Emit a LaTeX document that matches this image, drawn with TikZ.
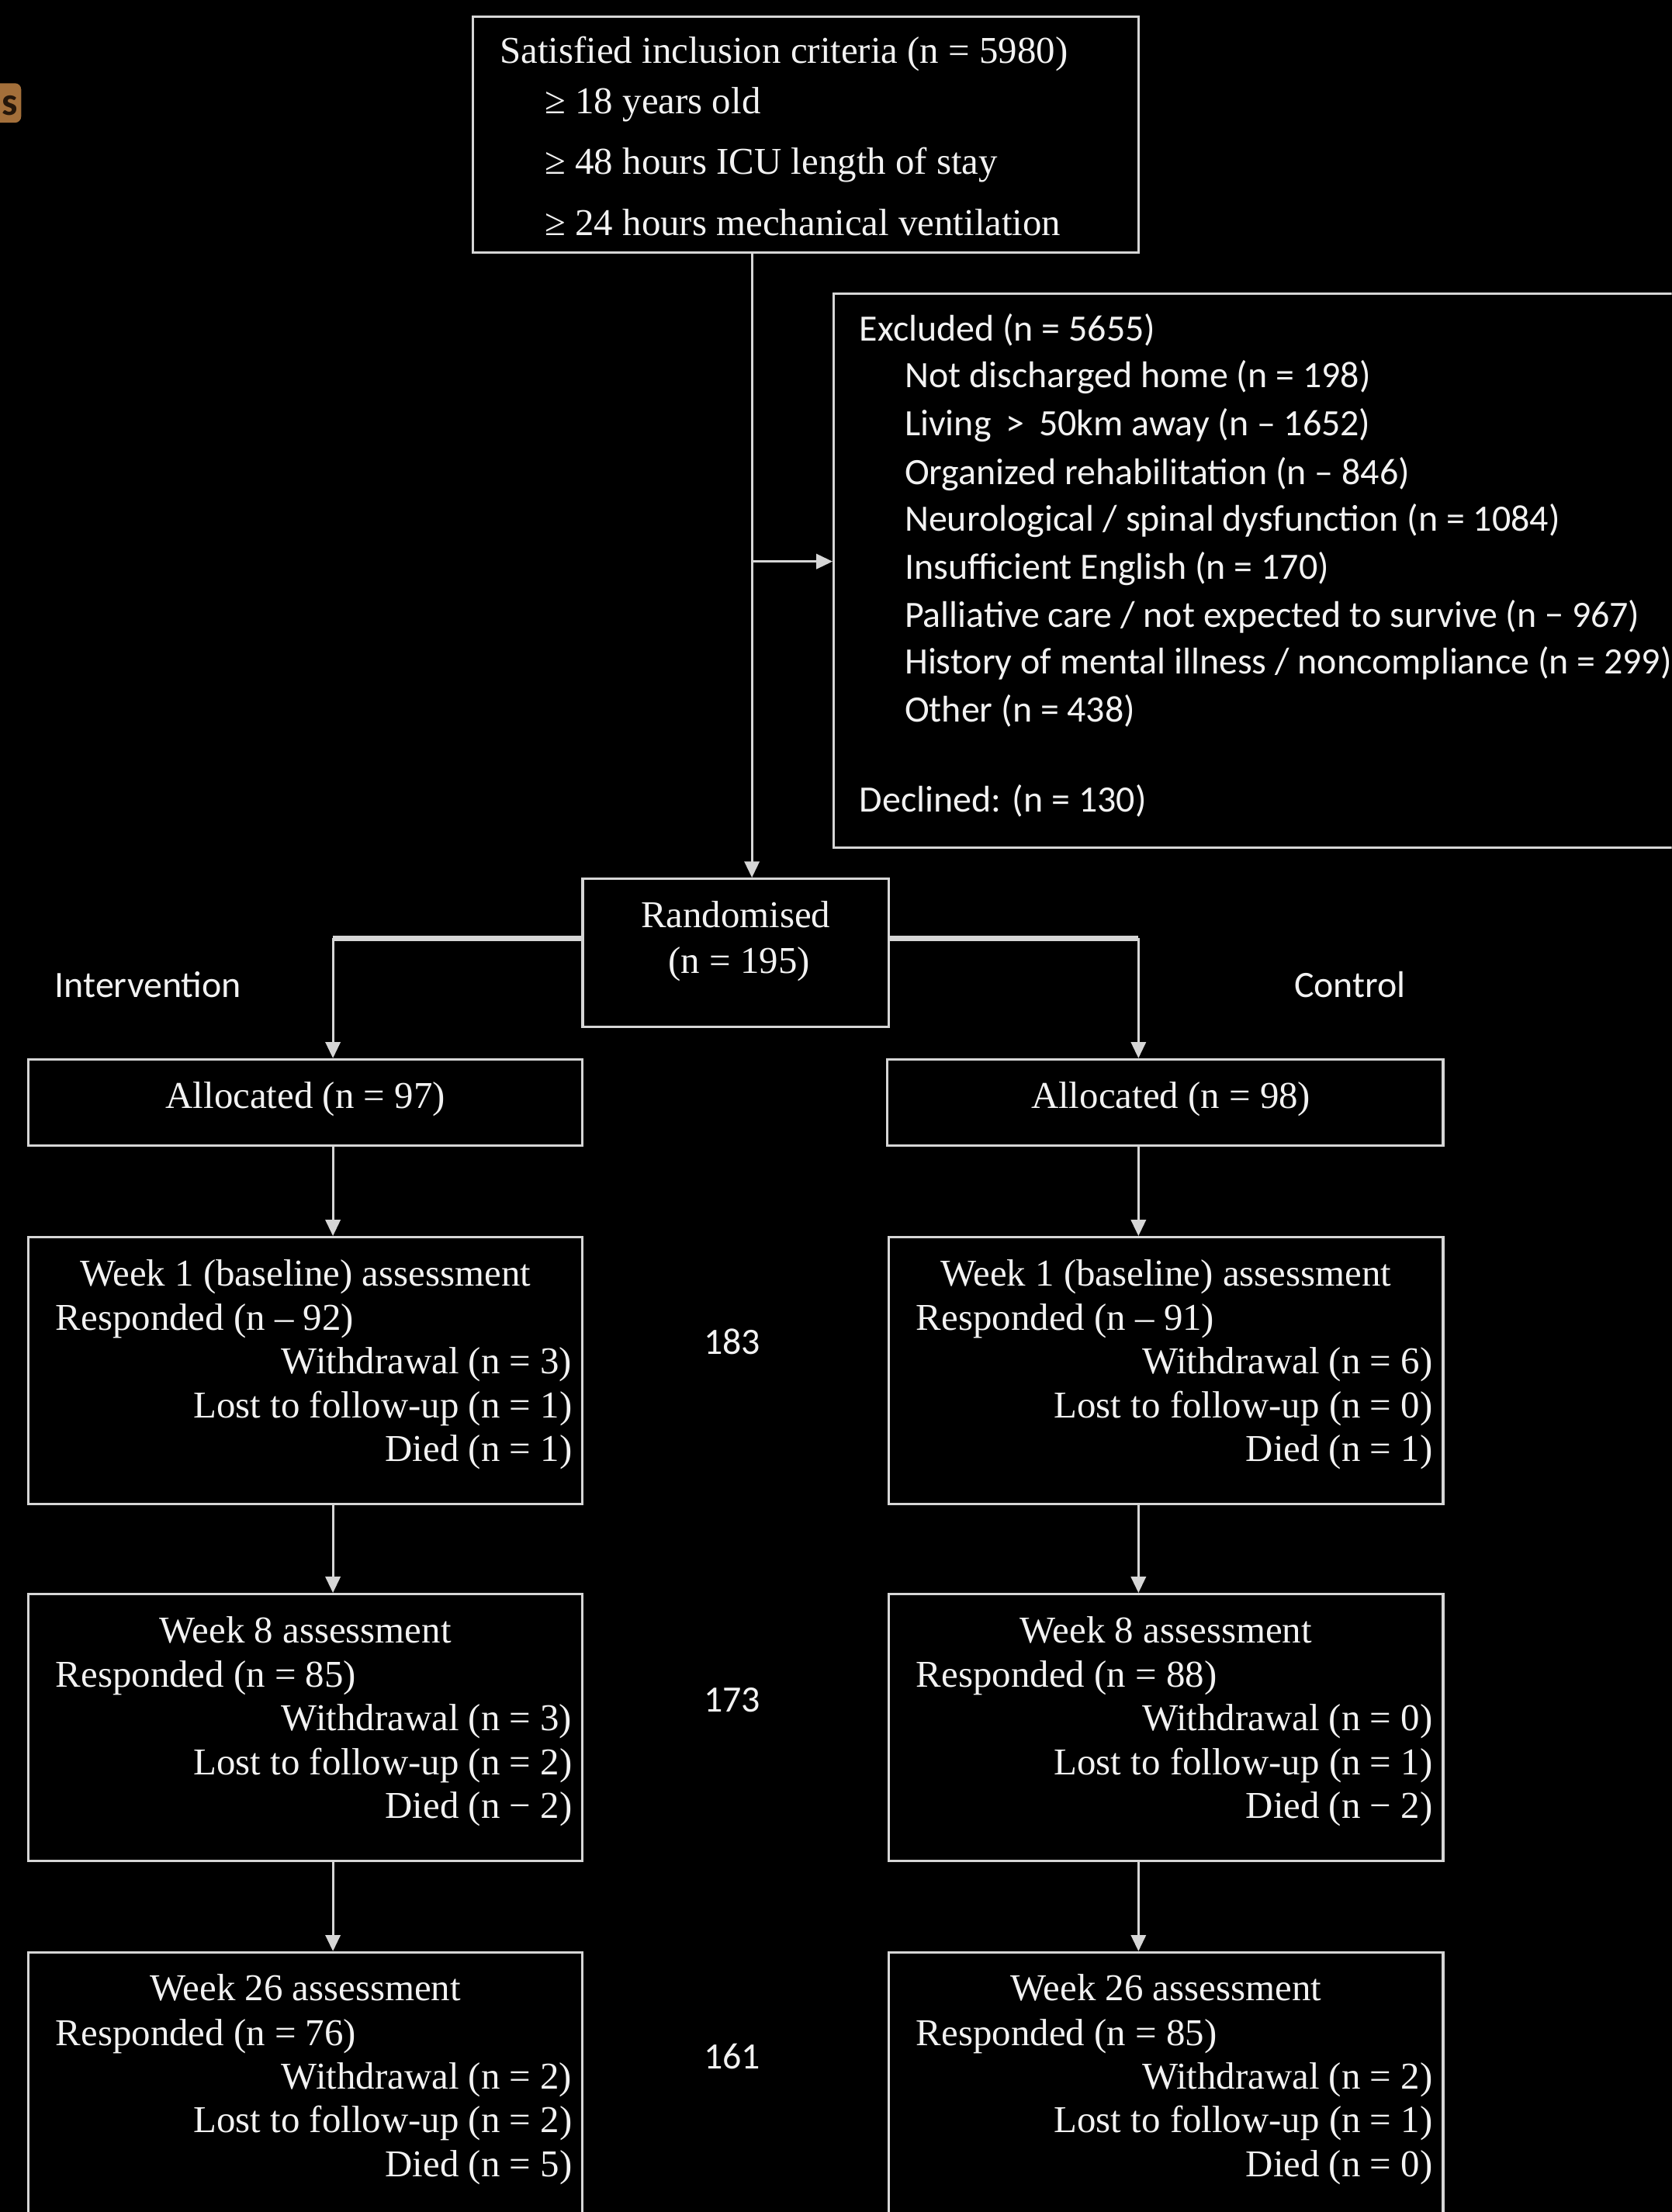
\documentclass[tikz,border=0pt]{standalone}
\usepackage{fontspec}
\setmainfont{Liberation Serif}
\newfontfamily\calib{Carlito}
\usetikzlibrary{arrows.meta,calc}

\definecolor{ink}{HTML}{F2F2F2}
\definecolor{rule}{HTML}{D6D6D6}
\definecolor{tagfill}{HTML}{A36F3A}
\definecolor{tagink}{HTML}{24160A}

% text for one assessment box: name, title, responded, withdrawal, lost, died
\newcommand{\assesstext}[6]{%
  \node[serif] (#1-t) at ($(#1.north)+(0,27.5)$) {#2};
  \node[serif, anchor=west] (#1-r) at ($(#1.north west)+(20,59)$) {#3};
  \node[serif, anchor=east] (#1-w) at ($(#1.north east)+(-8,90)$) {#4};
  \node[serif, anchor=east] (#1-l) at ($(#1.north east)+(-8,121)$) {#5};
  \node[serif, anchor=east] (#1-d) at ($(#1.north east)+(-8,152)$) {#6};
}

\begin{document}
\begin{tikzpicture}[x=0.02cm, y=-0.02cm,
  box/.style={draw=rule, line width=1pt, inner sep=0pt},
  serif/.style={text=ink, inner sep=0pt, font=\fontsize{15.3}{18}\selectfont,
    text height=0.9em, text depth=0.02em},
  sans/.style={text=ink, inner sep=0pt, font=\calib\fontsize{15}{18}\selectfont,
    text height=0.9em, text depth=0.02em},
  link/.style={draw=rule, line width=1pt, -{Triangle[width=0.21cm,length=0.23cm]}},
  split/.style={draw=rule, line width=2.2pt}]

\path[use as bounding box, fill=black] (0,0) rectangle (1185,1568);
\clip (0,0) rectangle (1185,1568);

% tab peeking in from the left edge
\node[fill=tagfill, rounded corners=2.5pt, minimum width=0.8cm, minimum height=0.56cm,
  inner sep=0pt] (tab) at (-5,73) {};
\node[text=tagink, inner sep=0pt, font=\calib\bfseries\fontsize{16}{18}\selectfont,
  anchor=east] (tab-s) at (13,75) {s};

% ---------- boxes ----------
\node[box, minimum width=9.44cm, minimum height=3.34cm] (top) at (571,95.5) {};
\node[box, minimum width=12.18cm, minimum height=7.86cm] (excl) at (895.5,404.5) {};
\node[box, minimum width=4.34cm, minimum height=2.10cm] (rand) at (521.5,675.5) {};
\node[box, minimum width=7.86cm, minimum height=1.22cm] (alL) at (216.5,781.5) {};
\node[box, minimum width=7.88cm, minimum height=1.22cm] (alR) at (826,781.5) {};
\node[box, minimum width=7.86cm, minimum height=3.78cm] (w1L) at (216.5,971.5) {};
\node[box, minimum width=7.86cm, minimum height=3.78cm] (w1R) at (826.5,971.5) {};
\node[box, minimum width=7.86cm, minimum height=3.78cm] (w8L) at (216.5,1224.5) {};
\node[box, minimum width=7.86cm, minimum height=3.78cm] (w8R) at (826.5,1224.5) {};
\node[box, minimum width=7.86cm, minimum height=3.78cm] (w26L) at (216.5,1478.5) {};
\node[box, minimum width=7.86cm, minimum height=3.78cm] (w26R) at (826.5,1478.5) {};

% ---------- inclusion ----------
\node[serif, anchor=west] (top-1) at (354,37) {Satisfied inclusion criteria (n = 5980)};
\node[serif, anchor=west] (top-2) at (386,73) {≥ 18 years old};
\node[serif, anchor=west] (top-3) at (386,116) {≥ 48 hours ICU length of stay};
\node[serif, anchor=west] (top-4) at (386,159) {≥ 24 hours mechanical ventilation};

% ---------- exclusions ----------
\node[sans, anchor=west] (ex-0) at (609,234) {Excluded (n = 5655)};
\node[sans, anchor=west] (ex-1) at (641,267) {Not discharged home (n = 198)};
\node[sans, anchor=west] (ex-2) at (641,301) {Living \,>\, 50km away (n – 1652)};
\node[sans, anchor=west] (ex-3) at (641,336) {Organized rehabilitation (n – 846)};
\node[sans, anchor=west] (ex-4) at (641,369) {Neurological / spinal dysfunction (n = 1084)};
\node[sans, anchor=west] (ex-5) at (641,403) {Insufficient English (n = 170)};
\node[sans, anchor=west] (ex-6) at (641,437) {Palliative care / not expected to survive (n − 967)};
\node[sans, anchor=west] (ex-7) at (641,470) {History of mental illness / noncompliance (n = 299)};
\node[sans, anchor=west] (ex-8) at (641,504) {Other (n = 438)};
\node[sans, anchor=west] (ex-9) at (609,568) {Declined: (n = 130)};

% ---------- randomisation and arms ----------
\node[serif] (rand-1) at (521.5,650) {Randomised};
\node[serif] (rand-2) at (524,682) {(n = 195)};
\node[sans] (armL) at (105,699) {Intervention};
\node[sans] (armR) at (957,699) {Control};
\node[serif] (alL-t) at (216.5,778) {Allocated (n = 97)};
\node[serif] (alR-t) at (830,778) {Allocated (n = 98)};

\assesstext{w1L}{Week 1 (baseline) assessment}{Responded (n – 92)}{Withdrawal (n = 3)}{Lost to follow-up (n = 1)}{Died (n = 1)}
\assesstext{w1R}{Week 1 (baseline) assessment}{Responded (n – 91)}{Withdrawal (n = 6)}{Lost to follow-up (n = 0)}{Died (n = 1)}
\assesstext{w8L}{Week 8 assessment}{Responded (n = 85)}{Withdrawal (n = 3)}{Lost to follow-up (n = 2)}{Died (n − 2)}
\assesstext{w8R}{Week 8 assessment}{Responded (n = 88)}{Withdrawal (n = 0)}{Lost to follow-up (n = 1)}{Died (n − 2)}
\assesstext{w26L}{Week 26 assessment}{Responded (n = 76)}{Withdrawal (n = 2)}{Lost to follow-up (n = 2)}{Died (n = 5)}
\assesstext{w26R}{Week 26 assessment}{Responded (n = 85)}{Withdrawal (n = 2)}{Lost to follow-up (n = 1)}{Died (n = 0)}

% totals between the arms
\node[sans] (tot1) at (519,952) {183};
\node[sans] (tot8) at (519,1206) {173};
\node[sans] (tot26) at (519,1459) {161};

% ---------- connectors ----------
\coordinate (trunk) at (533,398);
\coordinate (colL) at (236,665);
\coordinate (colR) at (807,665);

\draw[link] (top.south -| trunk) -- (rand.north -| trunk);
\draw[link] (trunk) -- (excl.west |- trunk);

\draw[split] (rand.west |- colL) -- (colL);
\draw[link] (colL) -- (alL.north -| colL);
\draw[split] (rand.east |- colR) -- (colR);
\draw[link] (colR) -- (alR.north -| colR);

\draw[link] (alL.south -| colL) -- (w1L.north -| colL);
\draw[link] (w1L.south -| colL) -- (w8L.north -| colL);
\draw[link] (w8L.south -| colL) -- (w26L.north -| colL);
\draw[link] (alR.south -| colR) -- (w1R.north -| colR);
\draw[link] (w1R.south -| colR) -- (w8R.north -| colR);
\draw[link] (w8R.south -| colR) -- (w26R.north -| colR);
\end{tikzpicture}
\end{document}
